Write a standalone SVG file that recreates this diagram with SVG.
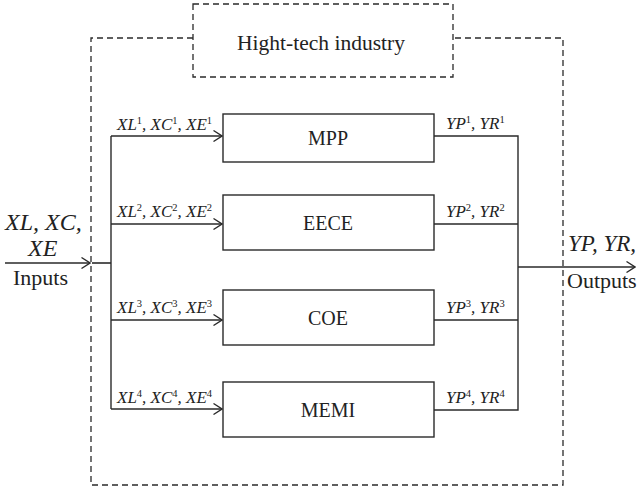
<svg xmlns="http://www.w3.org/2000/svg" width="639" height="492" viewBox="0 0 639 492">
<defs>
<style>
.box{fill:#fff;stroke:#2a2a2a;stroke-width:1.4}
.dash{fill:none;stroke:#2a2a2a;stroke-width:1.3;stroke-dasharray:6 4}
.ln{fill:none;stroke:#2a2a2a;stroke-width:1.4}
.t{font-family:"Liberation Serif","Times New Roman",serif;fill:#222}
.lbl{font-size:20px;text-anchor:middle}
.it{font-style:italic}
.sm{font-size:17px;font-style:italic}
.sup{font-size:10.5px;font-style:normal}
</style>
<marker id="ah" viewBox="0 0 10 12" refX="9.5" refY="6" markerWidth="10" markerHeight="12" markerUnits="userSpaceOnUse" orient="auto">
<path d="M1,0.5 L9.5,6 L1,11.5" fill="none" stroke="#2a2a2a" stroke-width="1.3"/>
</marker>
</defs>
<rect width="639" height="492" fill="#fff"/>
<g id="frame">
<path class="dash" d="M193,38 H91 V485 H563 V38 H453"/>
</g>
<g id="title">
<rect class="dash" x="193" y="4" width="260" height="73"/>
<text class="t" x="321" y="50" font-size="21.5" text-anchor="middle">Hight-tech industry</text>
</g>
<g id="connectors">
<line class="ln" x1="5" y1="263" x2="90" y2="263" marker-end="url(#ah)"/>
<line x1="92" y1="263" x2="111" y2="263" stroke="#555" stroke-width="2"/>
<path class="ln" d="M111,136 V409"/>
<line class="ln" x1="111" y1="136" x2="222" y2="136" marker-end="url(#ah)"/>
<line class="ln" x1="111" y1="224" x2="222" y2="224" marker-end="url(#ah)"/>
<line class="ln" x1="111" y1="320" x2="222" y2="320" marker-end="url(#ah)"/>
<line class="ln" x1="111" y1="409" x2="222" y2="409" marker-end="url(#ah)"/>
<path class="ln" d="M434,136 H518 V410 H434 M434,224 H518 M434,320 H518"/>
<line class="ln" x1="518" y1="267" x2="635" y2="267" marker-end="url(#ah)"/>
</g>
<g id="MPP">
<rect class="box" x="223" y="114" width="211" height="48"/>
<text class="t lbl" x="328" y="145">MPP</text>
</g>
<g id="EECE">
<rect class="box" x="223" y="195" width="211" height="55"/>
<text class="t lbl" x="328" y="230">EECE</text>
</g>
<g id="COE">
<rect class="box" x="223" y="290" width="211" height="55"/>
<text class="t lbl" x="328" y="325">COE</text>
</g>
<g id="MEMI">
<rect class="box" x="223" y="382" width="211" height="55"/>
<text class="t lbl" x="328" y="417">MEMI</text>
</g>
<g id="labels">
<text class="t it" x="5" y="230" font-size="24">XL, XC,</text>
<text class="t it" x="28" y="256" font-size="24">XE</text>
<text class="t" x="13" y="285" font-size="22">Inputs</text>
<text class="t it" x="568" y="251" font-size="23">YP, YR,</text>
<text class="t" x="567" y="288" font-size="22">Outputs</text>
<text class="t sm" x="117" y="130">XL<tspan class="sup" dy="-6">1</tspan><tspan dy="6">, XC</tspan><tspan class="sup" dy="-6">1</tspan><tspan dy="6">, XE</tspan><tspan class="sup" dy="-6">1</tspan></text>
<text class="t sm" x="117" y="217">XL<tspan class="sup" dy="-6">2</tspan><tspan dy="6">, XC</tspan><tspan class="sup" dy="-6">2</tspan><tspan dy="6">, XE</tspan><tspan class="sup" dy="-6">2</tspan></text>
<text class="t sm" x="117" y="313">XL<tspan class="sup" dy="-6">3</tspan><tspan dy="6">, XC</tspan><tspan class="sup" dy="-6">3</tspan><tspan dy="6">, XE</tspan><tspan class="sup" dy="-6">3</tspan></text>
<text class="t sm" x="117" y="403">XL<tspan class="sup" dy="-6">4</tspan><tspan dy="6">, XC</tspan><tspan class="sup" dy="-6">4</tspan><tspan dy="6">, XE</tspan><tspan class="sup" dy="-6">4</tspan></text>
<text class="t sm" x="446" y="129">YP<tspan class="sup" dy="-6">1</tspan><tspan dy="6">, YR</tspan><tspan class="sup" dy="-6">1</tspan></text>
<text class="t sm" x="446" y="217">YP<tspan class="sup" dy="-6">2</tspan><tspan dy="6">, YR</tspan><tspan class="sup" dy="-6">2</tspan></text>
<text class="t sm" x="446" y="313">YP<tspan class="sup" dy="-6">3</tspan><tspan dy="6">, YR</tspan><tspan class="sup" dy="-6">3</tspan></text>
<text class="t sm" x="446" y="403">YP<tspan class="sup" dy="-6">4</tspan><tspan dy="6">, YR</tspan><tspan class="sup" dy="-6">4</tspan></text>
</g>
</svg>
